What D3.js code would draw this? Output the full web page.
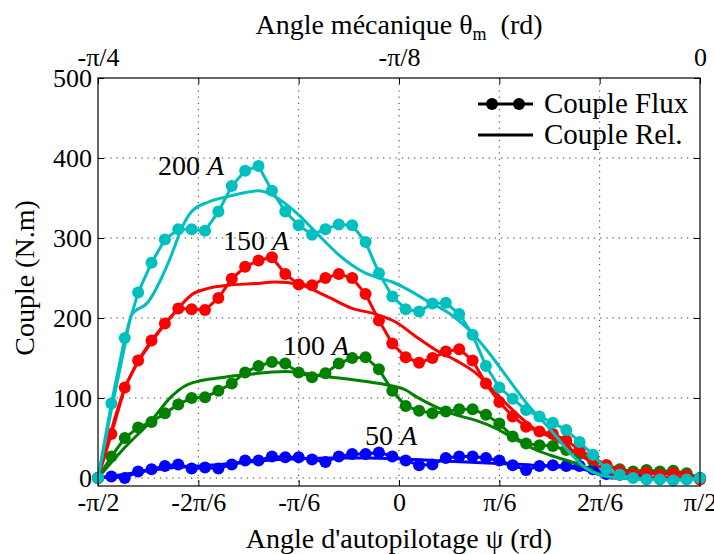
<!DOCTYPE html>
<html>
<head>
<meta charset="utf-8">
<script src="https://cdn.jsdelivr.net/npm/d3@7"></script>
<style>
  body { margin: 0; background: #fff; }
  text { font-family: "Liberation Serif", "Times New Roman", serif; fill: #000; }
</style>
</head>
<body>
<script>
//Angle psi (deg) of the flux samples, every 4 deg
var psiFlux = [-90,-86,-82,-78,-74,-70,-66,-62,-58,-54,-50,-46,-42,-38,-34,-30,-26,-22,-18,-14,-10,-6,-2,
               2,6,10,14,18,22,26,30,34,38,42,46,50,54,58,62,66,70,74,78,82,86,90];

//Couple Flux (N.m)
var flux200 = [0,93,175,232,269,298,311,311,309,333,365,384,390,359,333,316,304,311,317,316,295,256,227,
               211,208,218,219,205,179,140,113,99,85,77,69,60,45,29,11,4,0,-2,-2,-3,-2,0];
var flux150 = [0,55,113,147,172,193,212,211,210,225,249,264,272,276,255,242,241,250,255,250,230,197,168,
               151,144,150,158,161,147,118,95,77,64,58,55,47,35,26,16,9,5,7,4,6,3,-2];
var flux100 = [0,27,50,63,70,81,92,100,101,109,118,132,140,145,143,132,126,131,143,150,151,136,109,
               90,84,81,83,86,86,79,68,52,43,41,40,35,30,22,16,11,8,10,8,9,6,0];
var flux50 = [0,2,0,8,11,15,17,12,13,12,17,22,22,27,26,26,23,20,27,30,30,32,27,
              22,16,17,25,27,27,25,22,16,10,15,16,15,15,11,5,4,3,5,6,7,4,0];

//Couple Rel. (N.m), read at its own angles
var rel200Psi = [-90,-86,-82,-80,-75,-71,-68,-65,-62,-57,-51,-42,-38,-34,-30,-26,-22,-18,-14,-10,-6,-2,2,9,15,21,27,33,39,45,51,56,60,66,75,90];
var rel200 = [0,85,165,204,220,250,279,312,333,345,352,359,354,343,329,312,295,279,266,256,250,245,237,220,206,185,156,122,89,62,32,12,4,0,-2,-2];
var rel150Psi = [-90,-86,-82,-78,-74,-70,-66,-62,-57,-51,-43,-37,-30,-22,-14,-7,-1,5,11,17,23,29,35,41,46,54,60,64,70,90];
var rel150 = [0,60,112,145,170,192,212,229,237,241,243,245,242,228,212,205,195,177,160,147,131,106,81,60,50,29,14,5,0,0];
var rel100Psi = [-90,-82,-74,-68,-64,-60,-54,-46,-34,-22,-12,-2,2,5,11,17,23,29,35,41,47,53,57,61,66,90];
var rel100 = [0,38,72,102,115,121,125,129,133,127,122,115,110,102,89,79,72,62,48,35,26,18,11,3,0,0];
var rel50Psi = [-90,-80,-70,-60,-50,-40,-30,-20,-10,0,10,20,30,40,50,56,60,64,90];
var rel50 = [0,6,12,15,18,22,24,25,25,24,22,20,18,16,13,10,4,0,0];

//Series (drawn blue first, cyan last)
var seriesNames = ["50 A", "100 A", "150 A", "200 A"];
var seriesColors = ["#0000ff", "#008000", "#ff0000", "#00bfbf"];

//Ticks
var xTicks = [-90,-60,-30,0,30,60,90];
var xTickLabels = ["-\u03c0/2","-2\u03c0/6","-\u03c0/6","0","\u03c0/6","2\u03c0/6","\u03c0/2"];
var topTicks = [-45,-22.5,0];
var topTickLabels = ["-\u03c0/4","-\u03c0/8","0"];
var yTicks = [0,100,200,300,400,500];

var width = 714, height = 554;
var margin = {top: 78, right: 14, bottom: 68, left: 98};

var svg = d3.select("body").append("svg")
    .attr("width", width)
    .attr("height", height);

//Scales (y frame goes a bit under 0)
var xScale = d3.scaleLinear().domain([-90, 90]).range([margin.left, width - margin.right]);
var topScale = d3.scaleLinear().domain([-45, 0]).range([margin.left, width - margin.right]);
var yScale = d3.scaleLinear().domain([-10, 500]).range([height - margin.bottom, margin.top]);

var x0 = xScale.range()[0], x1 = xScale.range()[1];
var yb = yScale.range()[0], yt = yScale.range()[1];

//Grid (dotted)
var grid = svg.append("g").attr("class", "grid")
    .attr("stroke", "#333").attr("stroke-width", 1).attr("stroke-dasharray", "1.2,5");
grid.selectAll(".vg").data(xTicks.slice(1, -1)).enter().append("line")
    .attr("x1", function(d) { return xScale(d); }).attr("x2", function(d) { return xScale(d); })
    .attr("y1", yt).attr("y2", yb);
grid.selectAll(".hg").data(yTicks.slice(0, -1)).enter().append("line")
    .attr("y1", function(d) { return yScale(d); }).attr("y2", function(d) { return yScale(d); })
    .attr("x1", x0).attr("x2", x1);

//Axes, ticks pointing inside on all four sides
var bottomAxis = d3.axisBottom(xScale).tickValues(xTicks)
    .tickFormat(function(d, i) { return xTickLabels[i]; }).tickSizeInner(-6).tickSizeOuter(0).tickPadding(7);
var topAxisTicks = d3.axisTop(xScale).tickValues(xTicks).tickFormat("").tickSizeInner(-6).tickSizeOuter(0);
var topAxis = d3.axisTop(topScale).tickValues(topTicks)
    .tickFormat(function(d, i) { return topTickLabels[i]; }).tickSize(0).tickPadding(12);
var leftAxis = d3.axisLeft(yScale).tickValues(yTicks).tickSizeInner(-6).tickSizeOuter(0).tickPadding(6);
var rightAxis = d3.axisRight(yScale).tickValues(yTicks).tickFormat("").tickSizeInner(-6).tickSizeOuter(0);

function styleAxis(g) {
    g.select(".domain").remove();
    g.selectAll("line").attr("stroke", "#000");
    g.selectAll("text").attr("font-size", 26).attr("font-family", "Liberation Serif");
}

svg.append("g").attr("transform", "translate(0," + yb + ")").call(bottomAxis).call(styleAxis);
svg.append("g").attr("transform", "translate(0," + yt + ")").call(topAxisTicks).call(styleAxis);
svg.append("g").attr("transform", "translate(0," + yt + ")").call(topAxis).call(styleAxis);
svg.append("g").attr("transform", "translate(" + x0 + ",0)").call(leftAxis).call(styleAxis);
svg.append("g").attr("transform", "translate(" + x1 + ",0)").call(rightAxis).call(styleAxis);

//Curves
var flux = [flux50, flux100, flux150, flux200];
var rel = [rel50, rel100, rel150, rel200];
var relPsi = [rel50Psi, rel100Psi, rel150Psi, rel200Psi];

var fluxLine = d3.line()
    .x(function(d) { return xScale(d[0]); })
    .y(function(d) { return yScale(d[1]); });
var relLine = d3.line()
    .curve(d3.curveMonotoneX)
    .x(function(d) { return xScale(d[0]); })
    .y(function(d) { return yScale(d[1]); });

var plot = svg.append("g").attr("id", "curves");

seriesNames.forEach(function(name, i) {
    var fPts = psiFlux.map(function(p, j) { return [p, flux[i][j]]; });
    var rPts = relPsi[i].map(function(p, j) { return [p, rel[i][j]]; });
    var g = plot.append("g").attr("class", "serie");
    g.append("path")
        .attr("d", relLine(rPts))
        .attr("fill", "none").attr("stroke", seriesColors[i]).attr("stroke-width", 3);
    g.append("path")
        .attr("d", fluxLine(fPts))
        .attr("fill", "none").attr("stroke", seriesColors[i]).attr("stroke-width", 3);
    g.selectAll("circle").data(fPts).enter().append("circle")
        .attr("cx", function(d) { return xScale(d[0]); })
        .attr("cy", function(d) { return yScale(d[1]); })
        .attr("r", 6)
        .attr("fill", seriesColors[i]);
});

//Frame
svg.append("rect")
    .attr("x", x0).attr("y", yt)
    .attr("width", x1 - x0).attr("height", yb - yt)
    .attr("fill", "none").attr("stroke", "#000").attr("stroke-width", 1.2);

//Current labels
var labelPos = [[365, 445], [283, 355], [223, 250], [158, 175]];
seriesNames.forEach(function(name, i) {
    var t = svg.append("text")
        .attr("x", labelPos[i][0]).attr("y", labelPos[i][1])
        .attr("font-size", 28);
    t.append("tspan").text(name.split(" ")[0] + " ");
    t.append("tspan").attr("font-style", "italic").text("A");
});

//Legend
var legend = svg.append("g").attr("id", "legend");
legend.append("line").attr("x1", 478).attr("x2", 533).attr("y1", 104).attr("y2", 104)
    .attr("stroke", "#000").attr("stroke-width", 3);
legend.selectAll("circle").data([492, 519]).enter().append("circle")
    .attr("cx", function(d) { return d; }).attr("cy", 104).attr("r", 6).attr("fill", "#000");
legend.append("text").attr("x", 544).attr("y", 113).attr("font-size", 29).text("Couple Flux");
legend.append("line").attr("x1", 478).attr("x2", 533).attr("y1", 135).attr("y2", 135)
    .attr("stroke", "#000").attr("stroke-width", 3);
legend.append("text").attr("x", 544).attr("y", 144).attr("font-size", 29).text("Couple Rel.");

//Axis titles
svg.append("text")
    .attr("x", (x0 + x1) / 2).attr("y", 548)
    .attr("text-anchor", "middle").attr("font-size", 28)
    .text("Angle d'autopilotage \u03c8 (rd)");

var topTitle = svg.append("text")
    .attr("x", (x0 + x1) / 2).attr("y", 34)
    .attr("text-anchor", "middle").attr("font-size", 28);
topTitle.append("tspan").text("Angle m\u00e9canique \u03b8");
topTitle.append("tspan").attr("font-size", 18).attr("dy", 6).text("m");
topTitle.append("tspan").attr("dy", -6).text("\u00a0\u00a0(rd)");

svg.append("text")
    .attr("transform", "translate(34,278) rotate(-90)")
    .attr("text-anchor", "middle").attr("font-size", 28)
    .text("Couple (N.m)");
</script>
</body>
</html>
